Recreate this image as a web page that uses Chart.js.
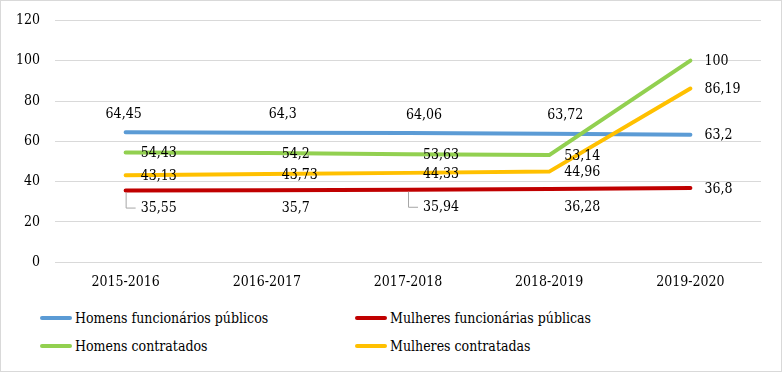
<!DOCTYPE html>
<html>
<head>
<meta charset="utf-8">
<script src="https://cdn.jsdelivr.net/npm/chart.js@4.4.1/dist/chart.umd.min.js"></script>
<style>
  body { margin: 0; background: #fff; }
  #box { position: relative; width: 780px; height: 370px; border: 1px solid #d9d9d9; background: #fff; overflow: hidden; font-family: "DejaVu Serif Condensed", "DejaVu Serif", serif; }
  #grafico { position: absolute; left: 0; top: -4px; }
  #legenda { position: absolute; left: 39px; top: 306px; display: grid; grid-template-columns: 315px auto; row-gap: 7px; font-size: 14px; color: #000; }
  .item { display: flex; align-items: center; height: 21px; white-space: nowrap; }
  .linha { width: 32px; height: 4px; border-radius: 2px; margin-right: 3px; }
</style>
</head>
<body>
<div id="box">
  <canvas id="grafico" width="780" height="306"></canvas>
  <div id="legenda"></div>
</div>
<script>
var anos = ['2015-2016', '2016-2017', '2017-2018', '2018-2019', '2019-2020'];
var homensFuncionarios = [64.45, 64.3, 64.06, 63.72, 63.2];
var mulheresFuncionarias = [35.55, 35.7, 35.94, 36.28, 36.8];
var homensContratados = [54.43, 54.2, 53.63, 53.14, 100];
var mulheresContratadas = [43.13, 43.73, 44.33, 44.96, 86.19];
var ticksY = [0, 20, 40, 60, 80, 100, 120];

var fonte = '"DejaVu Serif Condensed", "DejaVu Serif", serif';

function virgula(v) {
    return String(v).replace('.', ',');
}

// rótulos de dados no estilo do Excel
const rotulos = {
    id: 'rotulos',
    afterDatasetsDraw(chart) {
        const ctx = chart.ctx;
        ctx.save();
        ctx.font = '14px ' + fonte;
        ctx.fillStyle = '#000';
        ctx.textBaseline = 'middle';
        chart.data.datasets.forEach((ds, i) => {
            const meta = chart.getDatasetMeta(i);
            const ultimo = ds.data.length - 1;
            meta.data.forEach((pt, j) => {
                const txt = virgula(ds.data[j]);
                if (j == ultimo) {
                    ctx.textAlign = 'left';
                    ctx.fillText(txt, pt.x + 14, pt.y + 1);
                } else if (ds.rotulo == 'acima') {
                    ctx.textAlign = 'center';
                    ctx.fillText(txt, pt.x + (j == 0 ? -2 : 16), pt.y - 18);
                } else if (ds.rotulo == 'direita') {
                    ctx.textAlign = 'left';
                    ctx.fillText(txt, pt.x + 15, pt.y + 1);
                } else {
                    ctx.textAlign = 'left';
                    ctx.fillText(txt, pt.x + 15, pt.y + 18);
                    if (ds.guia && ds.guia.indexOf(j) >= 0) {
                        ctx.strokeStyle = '#a6a6a6';
                        ctx.lineWidth = 1;
                        ctx.beginPath();
                        ctx.moveTo(pt.x + 0.5, pt.y + 2);
                        ctx.lineTo(pt.x + 0.5, pt.y + 17.5);
                        ctx.lineTo(pt.x + 10, pt.y + 17.5);
                        ctx.stroke();
                    }
                }
            });
        });
        ctx.restore();
    }
};

const ctx = document.getElementById('grafico').getContext('2d');

const chart = new Chart(ctx, {
    type: 'line',
    data: {
        labels: anos,
        datasets: [
            {
                label: 'Homens funcionários públicos',
                data: homensFuncionarios,
                borderColor: '#5b9bd5',
                rotulo: 'acima',
                order: 4,
            },
            {
                label: 'Mulheres funcionárias públicas',
                data: mulheresFuncionarias,
                borderColor: '#c00000',
                rotulo: 'abaixo',
                guia: [0, 2],
                order: 3,
            },
            {
                label: 'Homens contratados',
                data: homensContratados,
                borderColor: '#92d050',
                rotulo: 'direita',
                order: 2,
            },
            {
                label: 'Mulheres contratadas',
                data: mulheresContratadas,
                borderColor: '#ffc000',
                rotulo: 'direita',
                order: 1,
            },
        ]
    },
    options: {
        responsive: false,
        animation: false,
        layout: { padding: { top: 0, right: 20, left: 0, bottom: 0 } },
        elements: {
            line: { borderWidth: 4, tension: 0, borderCapStyle: 'round', borderJoinStyle: 'round' },
            point: { radius: 0, hoverRadius: 0 }
        },
        plugins: {
            legend: { display: false },
            tooltip: { enabled: false }
        },
        scales: {
            x: {
                offset: true,
                grid: { display: false, drawTicks: false },
                border: { color: '#d9d9d9' },
                ticks: { color: '#000', font: { family: fonte, size: 14 }, padding: 12 }
            },
            y: {
                min: 0,
                max: 120,
                afterBuildTicks: (axis) => { axis.ticks = ticksY.map(v => ({ value: v })); },
                grid: { color: '#d9d9d9', drawTicks: false },
                border: { display: false },
                ticks: { color: '#000', font: { family: fonte, size: 14 }, padding: 15 }
            }
        }
    },
    plugins: [rotulos]
});

// legenda em duas colunas
var leg = document.getElementById('legenda');
chart.data.datasets.forEach((ds) => {
    var item = document.createElement('div');
    item.className = 'item';
    var linha = document.createElement('span');
    linha.className = 'linha';
    linha.style.background = ds.borderColor;
    var nome = document.createElement('span');
    nome.textContent = ds.label;
    item.appendChild(linha);
    item.appendChild(nome);
    leg.appendChild(item);
});
</script>
</body>
</html>
